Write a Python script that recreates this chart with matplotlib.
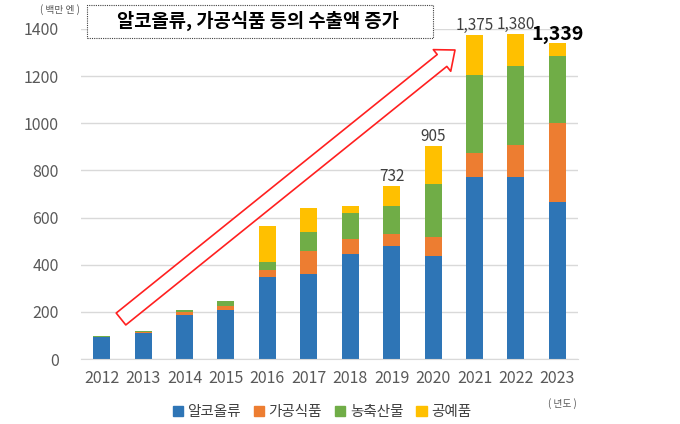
import matplotlib.pyplot as plt
import matplotlib.patches as mpatches
import numpy as np

plt.rcParams['font.family'] = ['Noto Sans CJK KR', 'DejaVu Sans']

# === 데이터 ===
years = ['2012', '2013', '2014', '2015', '2016', '2017', '2018', '2019', '2020', '2021', '2022', '2023']
alcohol = [93, 109, 185, 208, 348, 361, 444, 481, 436, 772, 772, 666]
processed = [2, 6, 13, 18, 31, 98, 64, 51, 80, 102, 136, 335]
agri = [2, 5, 10, 20, 32, 80, 110, 119, 227, 330, 336, 282]
craft = [0, 0, 0, 0, 154, 103, 31, 81, 162, 171, 136, 56]
series_names = ['알코올류', '가공식품', '농축산물', '공예품']
colors = ['#2E75B6', '#ED7D31', '#70AD47', '#FFC000']
labeled = {'2019': '732', '2020': '905', '2021': '1,375', '2022': '1,380'}
last_label = '1,339'

fig = plt.figure(figsize=(6.8, 4.24), dpi=100)
ax = fig.add_axes([0.119, 0.153, 0.731, 0.779])

x = np.arange(len(years))
bottom = np.zeros(len(years))
for vals, name, c in zip([alcohol, processed, agri, craft], series_names, colors):
    ax.bar(x, vals, width=0.41, bottom=bottom, color=c, label=name, zorder=2)
    bottom += np.array(vals)

totals = bottom
for i, y in enumerate(years):
    if y in labeled:
        ax.text(i, totals[i] + 4, labeled[y], ha='center', va='bottom',
                fontsize=11, color='#404040')
ax.text(x[-1], totals[-1] - 4, last_label, ha='center', va='bottom',
        fontsize=14, fontweight='bold', color='black')

ax.set_xlim(-0.5, len(years) - 0.5)
ax.set_ylim(0, 1400)
ax.set_yticks(range(0, 1401, 200))
ax.set_xticks(x)
ax.set_xticklabels(years)
ax.tick_params(length=0, labelsize=11.5, labelcolor='#595959')
ax.tick_params(axis='y', pad=16)
ax.tick_params(axis='x', pad=8)
ax.grid(axis='y', color='#d9d9d9', linewidth=1, zorder=0)
for s in ['top', 'right', 'left']:
    ax.spines[s].set_visible(False)
ax.spines['bottom'].set_color('#d9d9d9')

# 단위
fig.text(40 / 680, 1 - 10 / 424, '( 백만 엔 )', fontsize=7, color='#595959', ha='left', va='center')
fig.text(562 / 680, 1 - 404 / 424, '( 년도 )', fontsize=7, color='#595959', ha='center', va='center')

# 제목 박스
box = mpatches.Rectangle((87, 386), 346, 33, transform=None, fill=True, facecolor='white',
                         edgecolor='#404040', linestyle=(0, (1, 1)), linewidth=0.8, zorder=5)
fig.patches.append(box)
fig.text(258 / 680, 1 - 21 / 424, '알코올류, 가공식품 등의 수출액 증가', fontsize=13.5,
         fontweight='bold', ha='center', va='center', zorder=6)

# 화살표
ax.annotate('', xy=(455, 424 - 50), xycoords='figure pixels',
            xytext=(121, 424 - 319), textcoords='figure pixels',
            arrowprops=dict(arrowstyle='simple,head_length=1.2,head_width=2.0,tail_width=1.1',
                            mutation_scale=10, fc='white', ec='#FF2020', lw=1.2, shrinkA=0, shrinkB=0),
            zorder=4)

# 범례
handles = [mpatches.Patch(color=c, label=n) for c, n in zip(colors, series_names)]
fig.legend(handles=handles, loc='center', bbox_to_anchor=(322 / 680, 1 - 412 / 424), ncol=4,
           frameon=False, fontsize=10.5, handlelength=0.7, handleheight=0.7,
           handletextpad=0.3, columnspacing=0.9, labelcolor='#404040')

fig.savefig('out.png', dpi=100)
